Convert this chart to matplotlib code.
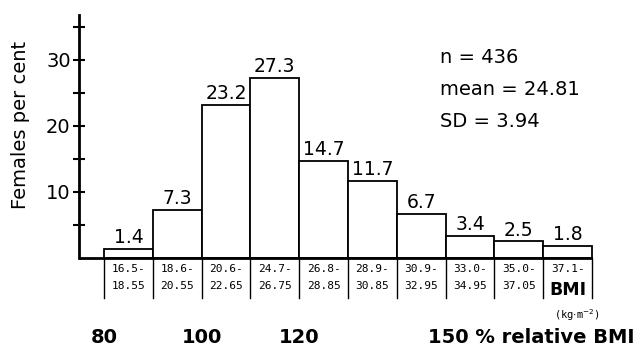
import numpy as np
import matplotlib
matplotlib.use('Agg')
import matplotlib.pyplot as plt

# data
percent     = [1.4, 7.3, 23.2, 27.3, 14.7, 11.7, 6.7, 3.4, 2.5, 1.8]
bmi_low     = ['16.5-', '18.6-', '20.6-', '24.7-', '26.8-', '28.9-', '30.9-', '33.0-', '35.0-', '37.1-']
bmi_high    = ['18.55', '20.55', '22.65', '26.75', '28.85', '30.85', '32.95', '34.95', '37.05', '']
rel_bmi     = ['80', '100', '120', '150']
rel_edge    = [0, 2, 4, 7]            # bar edge each relative BMI sits under
stats       = ['n = 436', 'mean = 24.81', 'SD = 3.94']
y_major     = [10, 20, 30]
y_minor     = [5, 15, 25, 35]

# figure setup
fig = plt.figure(figsize=(6.33, 3.5), dpi=100, facecolor='white')
ax  = fig.add_axes([79/633., 92/350., 554/633., 243/350.])

n   = len(percent)
x   = np.arange(n)

ax.bar(x, percent, width=1.0, color='white', edgecolor='black', linewidth=1.3, zorder=2)
for xi, v in zip(x, percent):
    ax.text(xi, v + 0.3, '%.1f' % v, ha='center', va='bottom', fontsize=13.5)

ax.set_xlim(-1.012, 10.34)
ax.set_ylim(0, 36.8)

for s in ['top', 'right', 'bottom']:
    ax.spines[s].set_visible(False)
ax.spines['left'].set_linewidth(2)
ax.hlines(0, -1.012, n - 0.5, color='black', linewidth=2, zorder=3, clip_on=False)

ax.set_xticks([])
ax.set_yticks(y_major)
ax.set_yticks(y_minor, minor=True)
ax.tick_params(axis='y', which='both', direction='inout', width=1.5, length=8, labelsize=14, pad=2)

ax.set_ylabel('Females per cent', fontsize=14)
ax.yaxis.set_label_coords(-0.088, 0.547)

# table of BMI classes under the bars
y_row1, y_row2, y_tab = -1.67, -4.24, -6.06
for e in range(n + 1):
    ax.plot([e - 0.5, e - 0.5], [0, y_tab], color='black', linewidth=1.0, clip_on=False)
for xi in x:
    ax.text(xi, y_row1, bmi_low[xi], ha='center', va='center', fontsize=8, family='DejaVu Sans Mono')
    if bmi_high[xi]:
        ax.text(xi, y_row2, bmi_high[xi], ha='center', va='center', fontsize=8, family='DejaVu Sans Mono')
ax.text(n - 1, y_row2 - 0.6, 'BMI', ha='center', va='center', fontsize=12.5, weight='bold')
ax.text(n - 0.81, -8.6, r'(kg$\cdot$m$^{-2}$)', ha='center', va='center', fontsize=7.5, family='DejaVu Sans Mono')

# relative BMI scale
y_rel = -12.1
for lab, e in zip(rel_bmi[:-1], rel_edge[:-1]):
    ax.text(e - 0.5, y_rel, lab, ha='center', va='center', fontsize=14, weight='bold')
ax.text(rel_edge[-1] - 0.86, y_rel, rel_bmi[-1] + ' % relative BMI', ha='left', va='center',
        fontsize=14, weight='bold')

# summary statistics
for k, s in enumerate(stats):
    ax.text(6.39, 30.3 - 4.85*k, s, ha='left', va='center', fontsize=14)

fig.savefig('out.png', dpi=100, facecolor='white')
